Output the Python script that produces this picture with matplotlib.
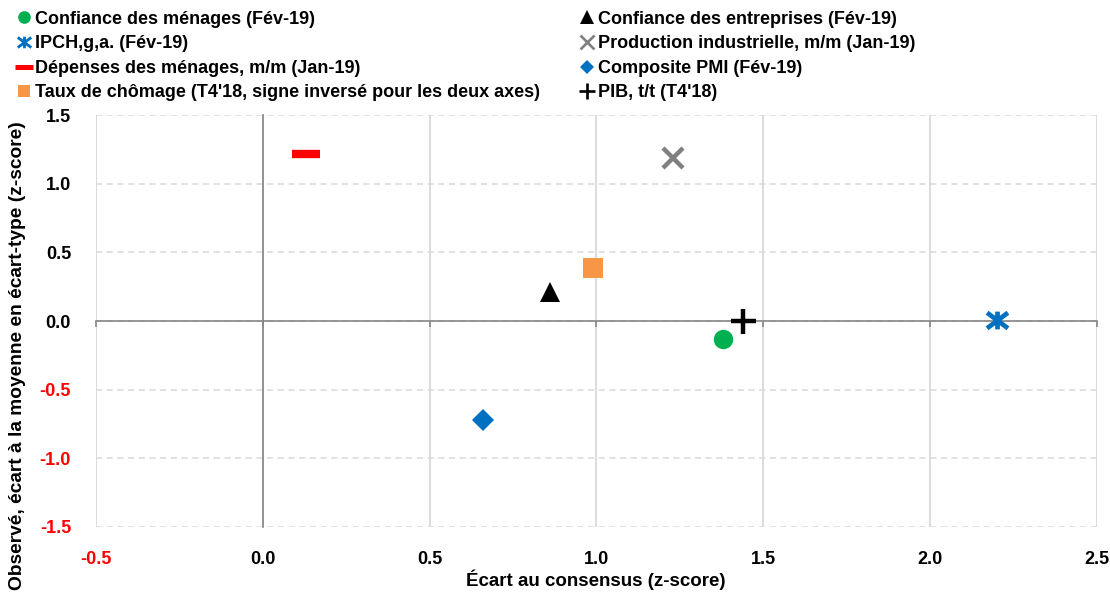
import matplotlib.pyplot as plt
from matplotlib.path import Path
from matplotlib import font_manager

# police étroite si disponible, sinon Liberation Sans un peu plus petite
installed = {f.name for f in font_manager.fontManager.ttflist}
if 'Liberation Sans Narrow' in installed:
    plt.rcParams['font.family'] = ['Liberation Sans Narrow', 'DejaVu Sans']
    k = 1.12
else:
    plt.rcParams['font.family'] = ['Liberation Sans', 'DejaVu Sans']
    k = 1.0
plt.rcParams['font.weight'] = 'bold'

# données (z-scores)
labels = [
    "Confiance des ménages (Fév-19)",
    "IPCH,g,a. (Fév-19)",
    "Dépenses des ménages, m/m (Jan-19)",
    "Taux de chômage (T4'18, signe inversé pour les deux axes)",
    "Confiance des entreprises (Fév-19)",
    "Production industrielle, m/m (Jan-19)",
    "Composite PMI (Fév-19)",
    "PIB, t/t (T4'18)",
]
x_surprise = [1.38, 2.20, 0.13, 0.99, 0.86, 1.23, 0.66, 1.44]
y_observe = [-0.13, 0.01, 1.22, 0.39, 0.21, 1.19, -0.72, 0.0]

x_ticks = [-0.5, 0.0, 0.5, 1.0, 1.5, 2.0, 2.5]
y_ticks = [-1.5, -1.0, -0.5, 0.0, 0.5, 1.0, 1.5]

# marqueur "étoile" Excel : croix + barre verticale
star = Path([(-1, -0.75), (1, 0.75), (-1, 0.75), (1, -0.75), (0, -0.85), (0, 0.85)],
            [Path.MOVETO, Path.LINETO, Path.MOVETO, Path.LINETO, Path.MOVETO, Path.LINETO])

styles = [
    dict(marker='o', color='#00B050', ms=14, mew=0),
    dict(marker=star, color='#0070C0', ms=15, mew=3.4, fillstyle='none'),
    dict(marker='_', color='#FF0000', ms=20, mew=6),
    dict(marker='s', color='#F79646', ms=14, mew=0),
    dict(marker='^', color='#000000', ms=15, mew=0),
    dict(marker='x', color='#808080', ms=15, mew=3.2),
    dict(marker='D', color='#0070C0', ms=11, mew=0),
    dict(marker='+', color='#000000', ms=18, mew=3.2),
]

fig = plt.figure(figsize=(11.1, 5.94), dpi=100)
ax = fig.add_axes([0.0865, 0.1128, 0.9015, 0.6934])

handles = []
for xs, ys, lab, st in zip(x_surprise, y_observe, labels, styles):
    h, = ax.plot([xs], [ys], linestyle='none', label=lab, zorder=5, **st)
    handles.append(h)

ax.set_xlim(-0.5, 2.5)
ax.set_ylim(-1.5, 1.5)

# grille
ax.set_xticks(x_ticks)
ax.set_yticks(y_ticks)
ax.grid(axis='x', color='#D9D9D9', linewidth=1.3, linestyle='-')
ax.grid(axis='y', color='#D9D9D9', linewidth=1.1, linestyle=(0, (4, 3)))
ax.set_axisbelow(True)

# axes passant par zéro
for s in ['top', 'right']:
    ax.spines[s].set_visible(False)
ax.spines['left'].set_position(('data', 0))
ax.spines['bottom'].set_position(('data', 0))
for s in ['left', 'bottom']:
    ax.spines[s].set_color('#868686')
    ax.spines[s].set_linewidth(1.2)
ax.tick_params(axis='x', direction='out', length=4, width=1.2, color='#868686', labelbottom=False)
ax.tick_params(axis='y', length=0, labelleft=False)

# étiquettes en bas et à gauche
secx = ax.secondary_xaxis(0.0)
secx.set_xticks(x_ticks)
secx.set_xticklabels([f"{v:.1f}" for v in x_ticks])
secx.tick_params(length=0, pad=17, labelsize=13 * k)
secx.spines['bottom'].set_visible(False)
for t, v in zip(secx.get_xticklabels(), x_ticks):
    t.set_color('red' if v < 0 else 'black')
    t.set_fontweight('bold')

secy = ax.secondary_yaxis(0.0)
secy.set_yticks(y_ticks)
secy.set_yticklabels([f"{v:.1f}" for v in y_ticks])
secy.tick_params(length=0, pad=18, labelsize=13 * k)
secy.spines['left'].set_visible(False)
for t, v in zip(secy.get_yticklabels(), y_ticks):
    t.set_color('red' if v < 0 else 'black')
    t.set_fontweight('bold')

fig.text(0.537, 0.0236, "Écart au consensus (z-score)", ha='center', va='center',
         fontsize=13.5 * k, fontweight='bold')
fig.text(0.0162, 0.402, "Observé, écart à la moyenne en écart-type (z-score)", rotation=90,
         ha='center', va='center', fontsize=13.8 * k, fontweight='bold')

# légende en deux colonnes
leg_kw = dict(loc='upper left', frameon=False, fontsize=13 * k, markerscale=0.65,
              handlelength=0.7, handletextpad=0.26, labelspacing=0.42, borderpad=0,
              borderaxespad=0)
leg1 = fig.legend(handles=handles[:4], bbox_to_anchor=(0.016, 0.982), **leg_kw)
leg2 = fig.legend(handles=handles[4:], bbox_to_anchor=(0.523, 0.982), **leg_kw)
for leg in (leg1, leg2):
    for lh in leg.legend_handles:
        lh.set_markeredgewidth(lh.get_markeredgewidth() * 0.6)

fig.savefig('out.png', dpi=100)
